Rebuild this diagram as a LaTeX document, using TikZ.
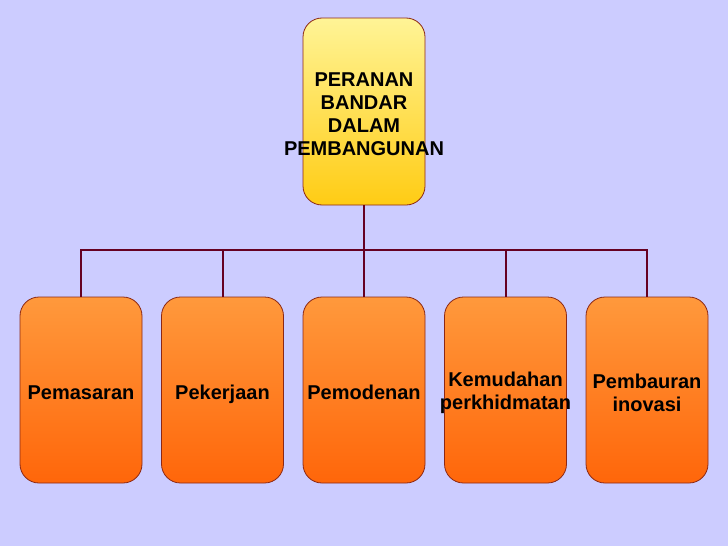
\documentclass[tikz,border=0pt]{standalone}
\usepackage{fontspec}
\setmainfont{Liberation Sans}
\usepackage{xcolor}
\usepackage{tikz}

\definecolor{bgviolet}{RGB}{204,204,255}
\definecolor{linemaroon}{RGB}{102,0,34}
\definecolor{edgebrown}{RGB}{140,40,20}

\begin{document}
\begin{tikzpicture}[x=1pt,y=-1pt,
    box/.style={draw=edgebrown, line width=0.8pt, rounded corners=19pt,
                minimum width=122pt, inner sep=0pt},
    topbox/.style={box, minimum height=187pt,
                   top color={rgb,255:red,255;green,244;blue,150},
                   bottom color={rgb,255:red,255;green,204;blue,20}},
    childbox/.style={box, minimum height=186pt,
                     top color={rgb,255:red,255;green,153;blue,60},
                     bottom color={rgb,255:red,255;green,102;blue,10}},
    boxtext/.style={font=\fontsize{20}{23}\selectfont\bfseries, align=center,
                    inner sep=0pt, yshift=-2.5pt},
    link/.style={draw=linemaroon, line width=2pt}]
    \fill[bgviolet] (0,0) rectangle (728,546);
    \useasboundingbox (0,0) rectangle (728,546);

    \node[topbox, label={[boxtext]center:PERANAN\\BANDAR\\DALAM\\PEMBANGUNAN}] (top) at (364,111.5) {};

    \node[childbox, label={[boxtext]center:Pemasaran}] (pemasaran) at (81,390) {};
    \node[childbox, label={[boxtext, yshift=-1.5pt]center:Pekerjaan}] (pekerjaan) at (222.5,390) {};
    \node[childbox, label={[boxtext]center:Pemodenan}] (pemodenan) at (364,390) {};
    \node[childbox, label={[boxtext]center:Kemudahan\\perkhidmatan}] (kemudahan) at (505.5,390) {};
    \node[childbox, label={[boxtext]center:Pembauran\\inovasi}] (pembauran) at (647,390) {};

    \coordinate (hub) at (364,250);
    \draw[link] (top.south) -- (hub);
    \foreach \c in {pemasaran,pekerjaan,pemodenan,kemudahan,pembauran}
        \draw[link] (hub) -| (\c.north);
\end{tikzpicture}
\end{document}
